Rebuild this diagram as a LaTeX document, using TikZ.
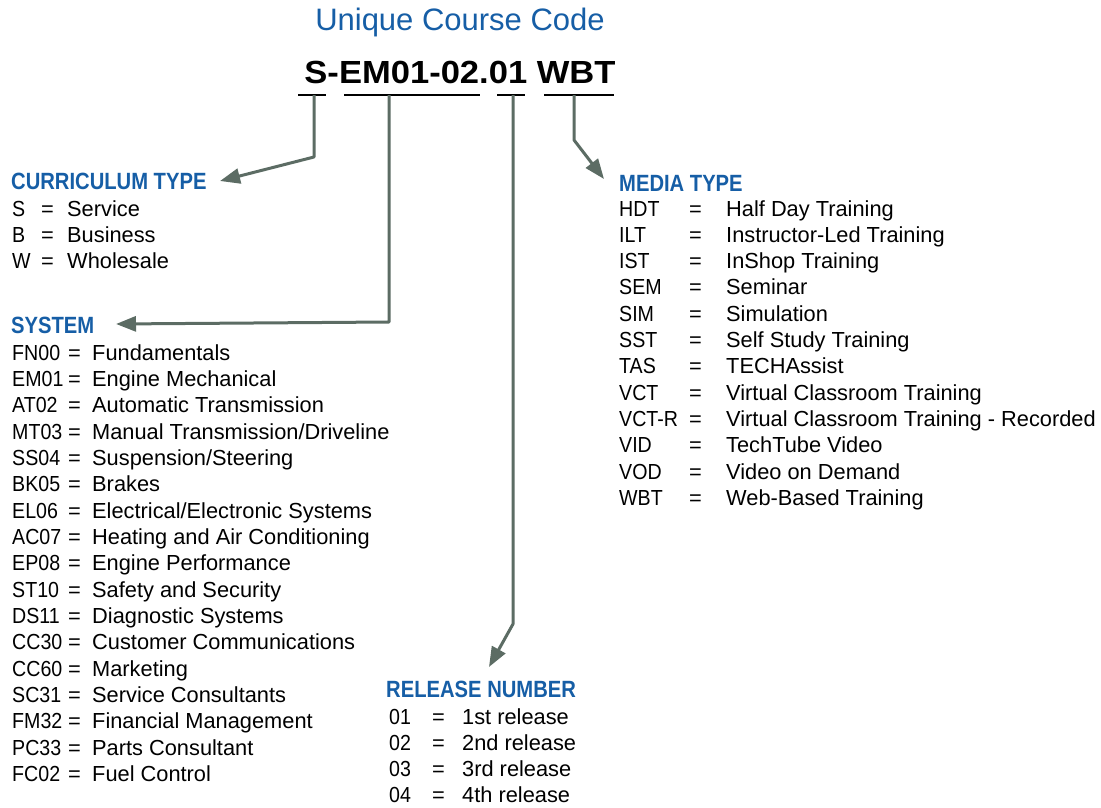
\documentclass[tikz,border=0pt]{standalone}
\usepackage{fontspec}
\setmainfont{Liberation Sans}
\newfontfamily\headfont[FakeStretch=0.86]{Liberation Sans}
\newfontfamily\codefont[FakeStretch=1.08]{Liberation Sans}
\newfontfamily\keyfont[FakeStretch=0.9]{Liberation Sans}
\usetikzlibrary{arrows.meta}
\definecolor{headblue}{RGB}{22,94,166}
\definecolor{conn}{RGB}{92,108,100}
\begin{document}
\begin{tikzpicture}[x=1pt,y=-1pt,
  txt/.style={anchor=base west,inner sep=0pt,font=\fontsize{21.8}{21.8}\selectfont},
  key/.style={anchor=base west,inner sep=0pt,font=\keyfont\fontsize{21.8}{21.8}\selectfont},
  head/.style={anchor=base west,inner sep=0pt,text=headblue,font=\headfont\bfseries\fontsize{23.5}{23.5}\selectfont},
  uline/.style={line width=1.4pt,black},
  connector/.style={conn,line width=3pt,line join=round,-{Triangle[length=20pt,width=15pt]}}]
\useasboundingbox (0,0) rectangle (1101,807);
% title
\node[anchor=base,inner sep=0pt,text=headblue,font=\fontsize{31}{31}\selectfont] (title) at (460,30) {Unique Course Code};
\node[anchor=base,inner sep=0pt,font=\codefont\bfseries\fontsize{32}{32}\selectfont] (code) at (460,83) {S-EM01-02.01 WBT};
% underlines
\draw[uline] (298,95) -- (326,95);
\draw[uline] (344,95) -- (480,95);
\draw[uline] (497,95) -- (525,95);
\draw[uline] (544,95) -- (614,95);
\coordinate (tS) at (314,95);
\coordinate (tE) at (389,95);
\coordinate (tR) at (513,95);
\coordinate (tM) at (574,95);
\coordinate (bS) at (314,157);
\coordinate (bE) at (389,322);
\coordinate (bR) at (513,624);
\coordinate (bM) at (574,140);
\coordinate (aS) at (220,181);
\coordinate (aE) at (116,324);
\coordinate (aR) at (489,667);
\coordinate (aM) at (604,179);
\draw[connector] (tS) -- (bS) -- (aS);
\draw[connector] (tE) -- (bE) -- (aE);
\draw[connector] (tR) -- (bR) -- (aR);
\draw[connector] (tM) -- (bM) -- (aM);
% curriculum type
\node[head] (hcur) at (11,189) {CURRICULUM TYPE};
\foreach \c/\v [count=\i from 0] in {S/Service,B/Business,W/Wholesale}{
  \node[key] (cc\i) at (12,216+26.3*\i) {\c};
  \node[txt] (ce\i) at (41,216+26.3*\i) {=};
  \node[txt] (cv\i) at (67,216+26.3*\i) {\v};
}
% system
\node[head] (hsys) at (11,333) {SYSTEM};
\foreach \c/\v [count=\i from 0] in {FN00/Fundamentals,EM01/Engine Mechanical,AT02/Automatic Transmission,MT03/{Manual Transmission/Driveline},SS04/{Suspension/Steering},BK05/Brakes,EL06/{Electrical/Electronic Systems},AC07/Heating and Air Conditioning,EP08/Engine Performance,ST10/Safety and Security,DS11/Diagnostic Systems,CC30/Customer Communications,CC60/Marketing,SC31/Service Consultants,FM32/Financial Management,PC33/Parts Consultant,FC02/Fuel Control}{
  \node[key] (sc\i) at (12,360+26.35*\i) {\c};
  \node[txt] (se\i) at (68,360+26.35*\i) {=};
  \node[txt] (sv\i) at (92,360+26.35*\i) {\v};
}
% media type
\node[head] (hmed) at (619,191) {MEDIA TYPE};
\foreach \c/\v [count=\i from 0] in {HDT/Half Day Training,ILT/Instructor-Led Training,IST/InShop Training,SEM/Seminar,SIM/Simulation,SST/Self Study Training,TAS/TECHAssist,VCT/Virtual Classroom Training,VCT-R/Virtual Classroom Training - Recorded,VID/TechTube Video,VOD/Video on Demand,WBT/Web-Based Training}{
  \node[key] (mc\i) at (619,216+26.3*\i) {\c};
  \node[txt] (me\i) at (689,216+26.3*\i) {=};
  \node[txt] (mv\i) at (726,216+26.3*\i) {\v};
}
% release number
\node[head] (hrel) at (386,697) {RELEASE NUMBER};
\foreach \c/\v [count=\i from 0] in {01/1st release,02/2nd release,03/3rd release,04/4th release}{
  \node[key] (rc\i) at (389,724+26.3*\i) {\c};
  \node[txt] (re\i) at (432,724+26.3*\i) {=};
  \node[txt] (rv\i) at (462,724+26.3*\i) {\v};
}
\end{tikzpicture}
\end{document}
